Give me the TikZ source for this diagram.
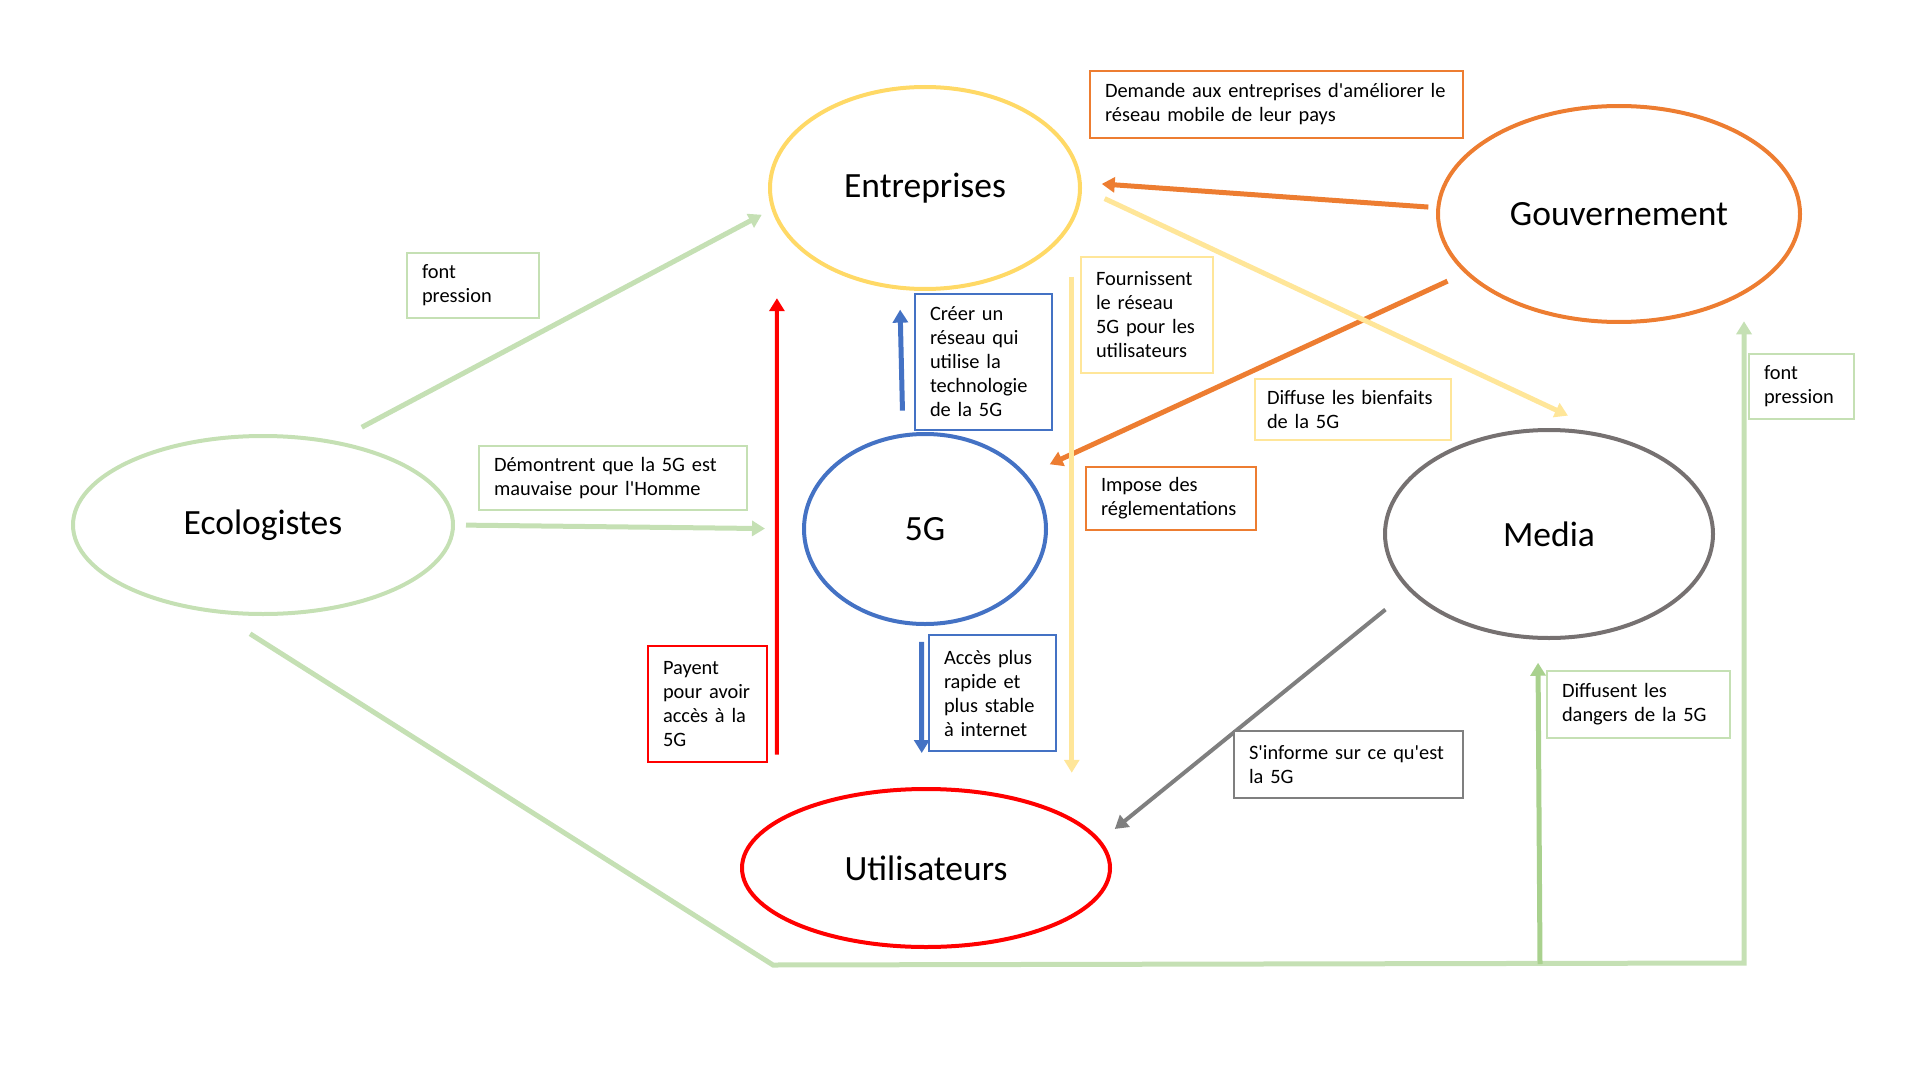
\documentclass[tikz,border=0pt]{standalone}
\usepackage{fontspec}
\setmainfont{Carlito}
\usetikzlibrary{shapes.geometric,arrows.meta}
\definecolor{jaune}{HTML}{FFD966}
\definecolor{jauneclair}{HTML}{FFE699}
\definecolor{orangefort}{HTML}{ED7D31}
\definecolor{vert}{HTML}{C5E0B4}
\definecolor{vertfonce}{HTML}{A9D18E}
\definecolor{bleu}{HTML}{4472C4}
\definecolor{gris}{HTML}{7F7F7F}
\definecolor{grisfonce}{HTML}{767171}
\definecolor{rouge}{HTML}{FF0000}
\begin{document}
\begin{tikzpicture}[x=1pt,y=-1pt,
  acteur/.style={draw=#1, ellipse, line width=4pt, inner sep=0pt, font=\fontsize{35.5}{42}\selectfont},
  etiq/.style={draw=#1, fill=white, line width=1.2pt, inner xsep=15pt, align=left, font=\fontsize{20.4}{24}\selectfont},
  fleche/.style={draw=#1, line width=5pt, -{Triangle[length=13pt,width=15pt]}}]
\useasboundingbox (0,0) rectangle (1916,1078);

% acteurs
\node[acteur=jaune, minimum width=310pt, minimum height=202pt] (entr) at (925,188) {Entreprises};
\node[acteur=orangefort, minimum width=362pt, minimum height=216pt] (gouv) at (1619,214) {Gouvernement};
\node[acteur=vert, minimum width=380pt, minimum height=178pt] (ecolo) at (263,525) {Ecologistes};
\node[acteur=bleu, minimum width=242pt, minimum height=190pt] (g5) at (925,529) {5G};
\node[acteur=grisfonce, minimum width=328pt, minimum height=208pt] (media) at (1549,534) {Media};
\node[acteur=rouge, minimum width=368pt, minimum height=158pt] (util) at (926,868) {Utilisateurs};

\coordinate (coudeA) at (773,965);
\coordinate (coudeB) at (1744,963);
\coordinate (fourche) at (1540,964);

% fleches
\draw[fleche=vert, shorten <=29pt, shorten >=11pt] (ecolo.49) -- (entr.188.2);
\draw[fleche=vert, shorten <=11pt, shorten >=37pt] (ecolo.0) -- (g5.180);
\draw[fleche=vert, shorten <=38pt, shorten >=28pt] (ecolo.-117.5) -- (coudeA) -- (coudeB) -- (coudeB |- gouv.-32);
\draw[fleche=vertfonce, shorten >=23pt] (fourche) -- (media.-96.6);
\draw[fleche=orangefort, shorten <=8pt, shorten >=20pt] (gouv.178.6) -- (entr.2.4);
\draw[fleche=orangefort, shorten <=19pt, shorten >=25pt] (gouv.-159.6) -- (g5.28.8);
\draw[fleche=jauneclair, shorten <=25pt, shorten >=47pt] (entr.0) -- (media.58.3);
\draw[fleche=jauneclair, shorten <=52pt, shorten >=45pt] (entr.-14.6) -- (entr.-14.6 |- util.19.2);
\draw[fleche=bleu, shorten <=23pt, shorten >=20pt] (g5.103.8) -- (entr.-104.1);
\draw[fleche=bleu, shorten <=16pt, shorten >=34pt] (g5.-92.4) -- (util.93.6);
\draw[fleche=rouge, line width=4pt, shorten <=65pt, shorten >=76pt] (util.162.4) -- (entr.-167.7);
\draw[fleche=gris, line width=4pt, shorten <=30pt, shorten >=18pt] (media.-158.2) -- (util.9.4);

% etiquettes
\node[etiq=orangefort, text width=343pt, minimum height=67pt] (demande) at (1276.5,104.5) {Demande aux entreprises d\textquotesingle améliorer le\\réseau mobile de leur pays};
\node[etiq=vert, text width=102pt, minimum height=65pt] (pressionA) at (473,285.5) {font\\pression};
\node[etiq=vert, text width=238pt, minimum height=64pt] (demontrent) at (613,478) {Démontrent que la 5G est\\mauvaise pour l\textquotesingle Homme};
\node[etiq=bleu, text width=107pt, minimum height=136pt] (creer) at (983.5,362) {Créer un\\réseau qui\\utilise la\\technologie\\de la 5G};
\node[etiq=jauneclair, text width=102pt, minimum height=116pt] (fournir) at (1147,315) {Fournissent\\le réseau\\5G pour les\\utilisateurs};
\node[etiq=jauneclair, inner xsep=12pt, text width=172pt, minimum height=61pt] (bienfaits) at (1353,409.5) {Diffuse les bienfaits\\de la 5G};
\node[etiq=orangefort, text width=140pt, minimum height=63pt] (impose) at (1171,498.5) {Impose des\\réglementations};
\node[etiq=vert, text width=75pt, minimum height=65pt] (pressionB) at (1801.5,386.5) {font\\pression};
\node[etiq=rouge, text width=89pt, minimum height=116pt] (payent) at (707.5,704) {Payent\\pour avoir\\accès à la\\5G};
\node[etiq=bleu, text width=97pt, minimum height=116pt] (acces) at (992.5,693) {Accès plus\\rapide et\\plus stable\\à internet};
\node[etiq=gris, text width=199pt, minimum height=67pt] (informe) at (1348.5,764.5) {S\textquotesingle informe sur ce qu\textquotesingle est\\la 5G};
\node[etiq=vert, text width=153pt, minimum height=67pt] (dangers) at (1638.5,704.5) {Diffusent les\\dangers de la 5G};
\end{tikzpicture}
\end{document}
